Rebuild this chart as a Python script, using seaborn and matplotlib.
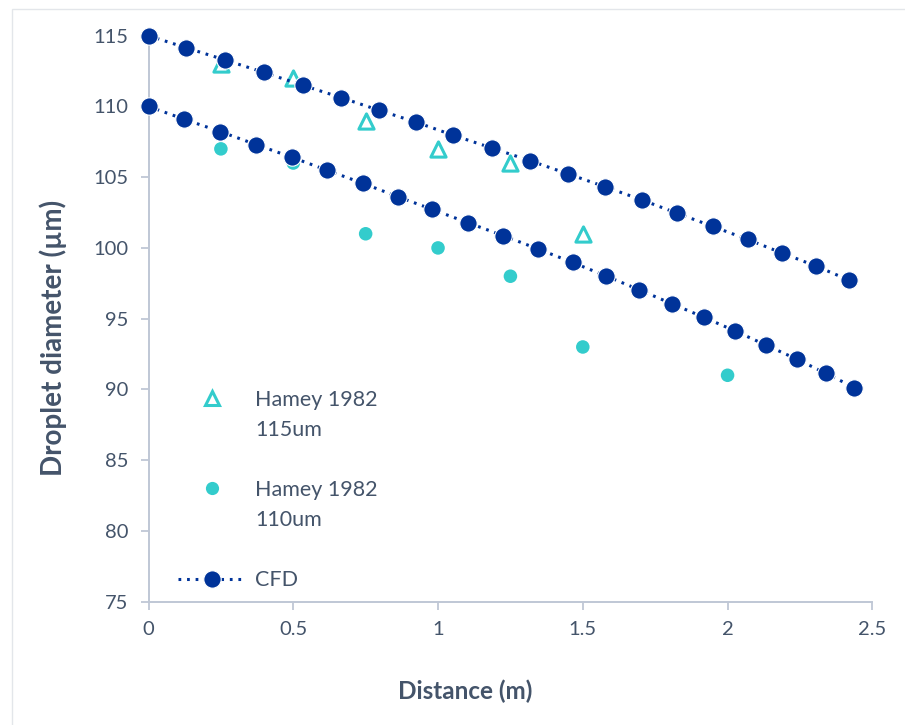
import matplotlib
matplotlib.use("Agg")
import matplotlib.pyplot as plt
from matplotlib.lines import Line2D
from matplotlib.patches import Rectangle
import seaborn as sns
import pandas as pd

# CFD predictions, 115 um droplets
cfd115_x = [0.0, 0.129, 0.265, 0.399, 0.532, 0.664, 0.796, 0.925, 1.053, 1.186,
            1.318, 1.448, 1.577, 1.703, 1.826, 1.949, 2.069, 2.187, 2.305, 2.420]
cfd115_y = [115.0, 114.15, 113.28, 112.40, 111.50, 110.63, 109.73, 108.88, 107.96, 107.06,
            106.16, 105.24, 104.32, 103.40, 102.45, 101.52, 100.60, 99.65, 98.72, 97.72]

# CFD predictions, 110 um droplets
cfd110_x = [0.0, 0.121, 0.248, 0.372, 0.496, 0.618, 0.740, 0.860, 0.979, 1.102, 1.225,
            1.346, 1.465, 1.581, 1.695, 1.807, 1.918, 2.026, 2.132, 2.239, 2.340, 2.438]
cfd110_y = [110.0, 109.11, 108.22, 107.30, 106.40, 105.48, 104.57, 103.63, 102.73, 101.79, 100.87,
            99.92, 98.97, 98.01, 97.04, 96.06, 95.10, 94.13, 93.14, 92.14, 91.13, 90.13]

# Hamey (1982) measurements
hamey115_x = [0.25, 0.5, 0.75, 1.0, 1.25, 1.5]
hamey115_y = [113, 112, 109, 107, 106, 101]
hamey110_x = [0.25, 0.5, 0.75, 1.0, 1.25, 1.5, 2.0]
hamey110_y = [107, 106, 101, 100, 98, 93, 91]

# legend rows: name line, size line, spacer
legend_labels = ["Hamey 1982", "115um", " ", "Hamey 1982", "110um", " ", "CFD"]
x_ticks = [0, 0.5, 1, 1.5, 2, 2.5]
x_tick_labels = ["0", "0.5", "1", "1.5", "2", "2.5"]
y_ticks = [75, 80, 85, 90, 95, 100, 105, 110, 115]

DARK = "#003399"
CYAN = "#33CCCC"
TEXT = "#44546A"
AXIS = "#BFC7D5"
DOTS = (0, (0.9, 1.9))

sns.set_theme(style="white")
plt.rcParams["font.family"] = ["Lato", "DejaVu Sans"]

fig = plt.figure(figsize=(9.05, 7.25), dpi=100)
ax = fig.add_axes([0.1641, 0.1701, 0.7998, 0.7807])

# light frame around the chart area
fig.patches.append(Rectangle((12 / 905, -0.05), 1.2, 1 - 9 / 725 + 0.05,
                             transform=fig.transFigure, fill=False,
                             edgecolor="#E3E6EA", linewidth=1.0, zorder=0))

cfd115 = pd.DataFrame({"x": cfd115_x, "y": cfd115_y})
cfd110 = pd.DataFrame({"x": cfd110_x, "y": cfd110_y})
h115 = pd.DataFrame({"x": hamey115_x, "y": hamey115_y})
h110 = pd.DataFrame({"x": hamey110_x, "y": hamey110_y})

for df in (cfd115, cfd110):
    sns.lineplot(data=df, x="x", y="y", ax=ax, sort=False, estimator=None,
                 color=DARK, linewidth=2.2, linestyle=DOTS, marker="o",
                 markersize=12.5, markeredgecolor="white", markeredgewidth=0.8,
                 zorder=3, clip_on=False)

sns.scatterplot(data=h115, x="x", y="y", ax=ax, marker="^", s=120,
                facecolor="white", edgecolor=CYAN, linewidth=2.2, zorder=2, clip_on=False)
sns.scatterplot(data=h110, x="x", y="y", ax=ax, marker="o", s=95,
                color=CYAN, edgecolor="none", zorder=2, clip_on=False)

ax.set_xlim(0, 2.5)
ax.set_ylim(75, 115)
ax.set_xticks(x_ticks)
ax.set_xticklabels(x_tick_labels)
ax.set_yticks(y_ticks)

for side in ("top", "right"):
    ax.spines[side].set_visible(False)
for side in ("left", "bottom"):
    ax.spines[side].set_color(AXIS)
    ax.spines[side].set_linewidth(1.4)

ax.tick_params(axis="both", which="major", direction="out", length=6, width=1.3,
               color=AXIS, labelcolor=TEXT, labelsize=14.5)
ax.tick_params(axis="x", pad=8, bottom=True)
ax.tick_params(axis="y", pad=8.5, left=True)
ax.grid(False)

ax.set_xlabel("Distance (m)", fontsize=17.5, fontweight="bold", color=TEXT)
ax.set_ylabel("Droplet diameter (µm)", fontsize=20, fontweight="bold", color=TEXT)
ax.xaxis.set_label_coords(0.437, -0.137)
ax.yaxis.set_label_coords(-0.113, 0.466)

blank = Line2D([], [], linestyle="none")
handles = [
    Line2D([], [], linestyle="none", marker="^", markersize=10, markerfacecolor="white",
           markeredgecolor=CYAN, markeredgewidth=2.2),
    blank, blank,
    Line2D([], [], linestyle="none", marker="o", markersize=9.5, markerfacecolor=CYAN,
           markeredgecolor="none"),
    blank, blank,
    Line2D([], [], linestyle=DOTS, linewidth=2.2, color=DARK, marker="o", markersize=12.5,
           markeredgecolor="white", markeredgewidth=0.8),
]
leg = ax.legend(handles, legend_labels, loc="lower left", bbox_to_anchor=(0.041, 0.02),
                frameon=False, fontsize=15.5, handlelength=3.15, handletextpad=0.42,
                labelspacing=0.47, borderaxespad=0.0, borderpad=0.0, labelcolor=TEXT)

fig.savefig("out.png", dpi=100, facecolor="white")
